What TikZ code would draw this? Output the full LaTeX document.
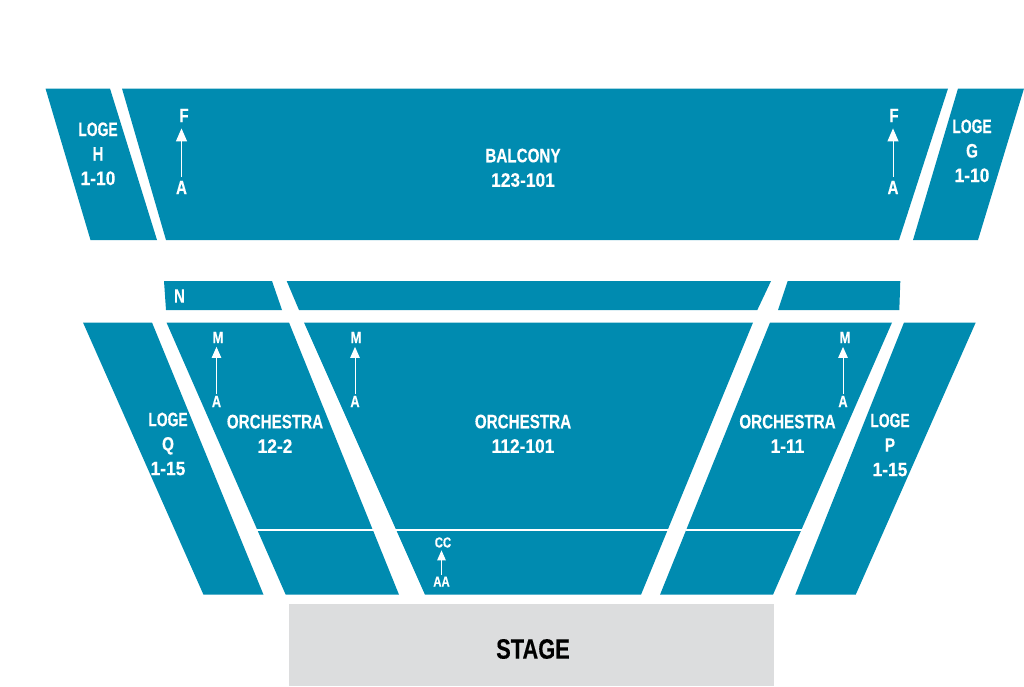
\documentclass[tikz,border=0pt]{standalone}
\usepackage{fontspec}
\setmainfont[FakeStretch=0.78,FakeBold=0.25,BoldFeatures={FakeStretch=0.78,FakeBold=0.25}]{Liberation Sans}
\newfontfamily\numfont[FakeStretch=0.89,FakeBold=0.25,BoldFeatures={FakeStretch=0.89,FakeBold=0.25}]{Liberation Sans}
\newfontfamily\logefont[FakeStretch=0.71,FakeBold=0.25,BoldFeatures={FakeStretch=0.71,FakeBold=0.25}]{Liberation Sans}
\usetikzlibrary{arrows.meta}
\definecolor{seat}{HTML}{008BB0}
\definecolor{stagegrey}{HTML}{DCDDDE}
\tikzset{
  seatblock/.style={fill=seat,draw=none},
  lbl/.style={text=white,font=\fontsize{19.5}{24.5}\selectfont\bfseries,align=center,inner sep=0pt},
  lblm/.style={text=white,font=\fontsize{16.5}{18}\selectfont\bfseries,inner sep=1.5pt},
  lbls/.style={text=white,font=\fontsize{14.5}{16}\selectfont\bfseries,inner sep=1.5pt},
  uparrow/.style={white,line width=1pt,shorten >=2pt,-{Triangle[width=11pt,length=13pt]}},
  uparrowm/.style={white,line width=1pt,shorten >=2pt,-{Triangle[width=9.5pt,length=11pt]}},
  uparrows/.style={white,line width=1pt,shorten >=1pt,-{Triangle[width=8.5pt,length=10pt]}},
  divider/.style={white,line width=1.4pt}
}
\newcommand{\nm}[1]{{\numfont\bfseries #1}}
\newcommand{\logeword}{{\logefont\bfseries LOGE}}
\begin{document}
\begin{tikzpicture}[x=1pt,y=-1pt]
\useasboundingbox (0,0) rectangle (1024,686);
% balcony level
\fill[seatblock] (45.5,88.5) -- (110,88.5) -- (157,240) -- (90.5,240) -- cycle;
\fill[seatblock] (122,88.5) -- (948,88.5) -- (899,240) -- (166,240) -- cycle;
\fill[seatblock] (958,88.5) -- (1024,88.5) -- (978,240) -- (913,240) -- cycle;
% row N
\fill[seatblock] (164,281) -- (272,281) -- (282,310) -- (166,310) -- cycle;
\fill[seatblock] (286.7,281) -- (771,281) -- (757.3,310) -- (299,310) -- cycle;
\fill[seatblock] (787.7,281) -- (900.3,281) -- (899.3,310) -- (778,310) -- cycle;
% orchestra
\fill[seatblock] (83,322.5) -- (152,322.5) -- (263.5,594.7) -- (203.5,594.7) -- cycle;
\fill[seatblock] (166.5,322.5) -- (289,322.5) -- (399,594.7) -- (285.7,594.7) -- cycle;
\fill[seatblock] (304,322.5) -- (753,322.5) -- (641,594.7) -- (425,594.7) -- cycle;
\fill[seatblock] (770,322.5) -- (892,322.5) -- (773,594.7) -- (660,594.7) -- cycle;
\fill[seatblock] (904,322.5) -- (975.7,322.5) -- (855.7,594.7) -- (795.3,594.7) -- cycle;
% cross aisle lines
\coordinate (la) at (257,530); \coordinate (lb) at (375,530);
\coordinate (ca) at (395,530); \coordinate (cb) at (668,530);
\coordinate (ra) at (686,530); \coordinate (rb) at (803,530);
\draw[divider] (la) -- (lb);
\draw[divider] (ca) -- (cb);
\draw[divider] (ra) -- (rb);
% stage
\fill[stagegrey] (289,604) rectangle (773.5,686);
\node[text=black,font=\fontsize{28}{30}\selectfont\bfseries,inner sep=0pt] (stage) at (533,649) {STAGE};
% labels
\node[lbl] (logeh) at (98,153.8) {\logeword\\H\\\nm{1-10}};
\node[lbl] (balcony) at (523,167.8) {BALCONY\\\nm{123-101}};
\node[lbl] (logeg) at (972,150.8) {\logeword\\G\\\nm{1-10}};
\node[lbl] (rown) at (179.5,296) {N};
\node[lbl] (logeq) at (168,444) {\logeword\\Q\\\nm{1-15}};
\node[lbl] (orchl) at (275,433.8) {ORCHESTRA\\\nm{12-2}};
\node[lbl] (orchc) at (523,433.8) {ORCHESTRA\\\nm{112-101}};
\node[lbl] (orchr) at (787.5,433.8) {ORCHESTRA\\\nm{1-11}};
\node[lbl] (logep) at (890,445) {\logeword\\P\\\nm{1-15}};
% balcony aisles
\node[lbl,inner sep=4pt] (f1) at (184,115.5) {F};
\node[lbl,inner sep=4pt] (a1) at (181.5,187.5) {A};
\draw[uparrow] (181.5,0 |- a1.north) -- (181.5,0 |- f1.south);
\node[lbl,inner sep=4pt] (f2) at (894,115.5) {F};
\node[lbl,inner sep=4pt] (a2) at (893,187.5) {A};
\draw[uparrow] (893,0 |- a2.north) -- (893,0 |- f2.south);
% orchestra aisles
\node[lblm] (m1) at (218,337.5) {M};
\node[lblm] (a3) at (216.5,401.5) {A};
\draw[uparrowm] (216.5,0 |- a3.north) -- (216.5,0 |- m1.south);
\node[lblm] (m2) at (356,337.5) {M};
\node[lblm] (a4) at (355,401.5) {A};
\draw[uparrowm] (355,0 |- a4.north) -- (355,0 |- m2.south);
\node[lblm] (m3) at (845,337.5) {M};
\node[lblm] (a5) at (843,401.5) {A};
\draw[uparrowm] (843,0 |- a5.north) -- (843,0 |- m3.south);
\node[lbls] (cc) at (443,542.5) {CC};
\node[lbls] (aa) at (441.5,581.5) {AA};
\draw[uparrows] (441.5,0 |- aa.north) -- (441.5,0 |- cc.south);
\end{tikzpicture}
\end{document}
